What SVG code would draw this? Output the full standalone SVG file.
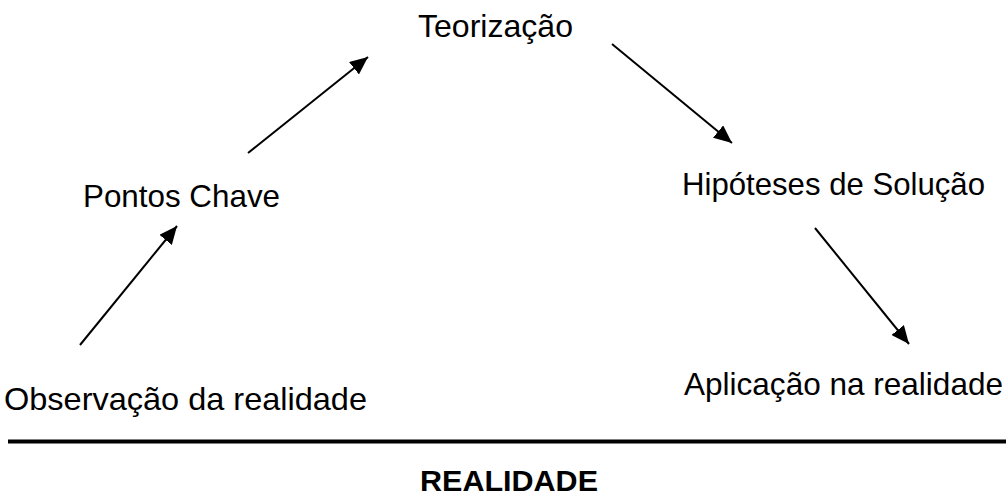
<svg xmlns="http://www.w3.org/2000/svg" width="1006" height="497" viewBox="0 0 1006 497">
<style>
.lbl{font-family:"Liberation Sans",Arial,sans-serif;font-size:32px;fill:#000}
.bold{font-weight:bold;font-size:29px}
.conn{stroke:#000;stroke-width:2;fill:none}
</style>
<defs>
<marker id="ah" markerUnits="userSpaceOnUse" markerWidth="20" markerHeight="16" refX="18" refY="8" orient="auto">
<path d="M0,0 L18,8 L0,16 Z" fill="#000"/>
</marker>
</defs>
<rect width="1006" height="497" fill="#fff"/>
<g id="connectors">
<line class="conn" x1="80" y1="345" x2="177" y2="226" marker-end="url(#ah)"/>
<line class="conn" x1="248" y1="153" x2="368" y2="57" marker-end="url(#ah)"/>
<line class="conn" x1="612" y1="44" x2="732" y2="143" marker-end="url(#ah)"/>
<line class="conn" x1="815" y1="228" x2="909" y2="344" marker-end="url(#ah)"/>
<line x1="8" y1="441.5" x2="1006" y2="441.5" stroke="#000" stroke-width="4"/>
</g>
<g id="teorizacao"><text class="lbl" x="418" y="37" textLength="155" lengthAdjust="spacingAndGlyphs">Teorização</text></g>
<g id="pontos-chave"><text class="lbl" x="83" y="207" textLength="197" lengthAdjust="spacingAndGlyphs">Pontos Chave</text></g>
<g id="hipoteses"><text class="lbl" x="682" y="195" textLength="303" lengthAdjust="spacingAndGlyphs">Hipóteses de Solução</text></g>
<g id="observacao"><text class="lbl" x="4" y="410" textLength="363" lengthAdjust="spacingAndGlyphs">Observação da realidade</text></g>
<g id="aplicacao"><text class="lbl" x="684" y="395" textLength="319" lengthAdjust="spacingAndGlyphs">Aplicação na realidade</text></g>
<g id="realidade"><text class="lbl bold" x="420" y="491" textLength="178" lengthAdjust="spacingAndGlyphs">REALIDADE</text></g>
</svg>
